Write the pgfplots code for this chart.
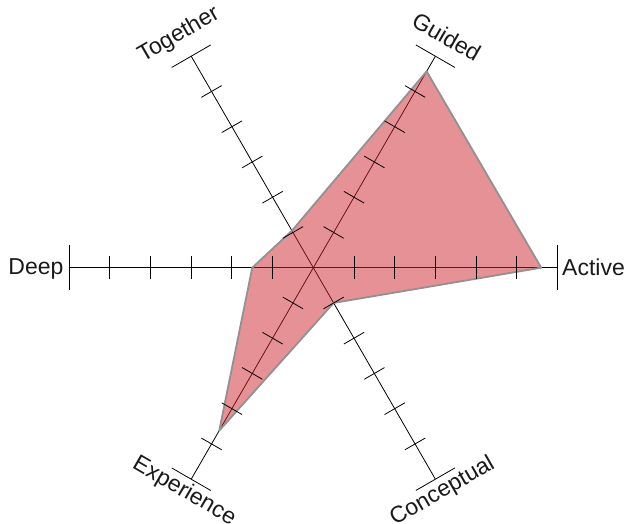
\documentclass[border=0pt]{standalone}
\usepackage{pgfplots}
\pgfplotsset{compat=1.18}
\usepackage{fontspec}
\setmainfont{Liberation Sans}
\definecolor{fillred}{RGB}{206,36,44}
\definecolor{edgegray}{RGB}{145,145,145}
\tikzset{lbl/.style={inner sep=0pt, font=\fontsize{23bp}{27bp}\selectfont, text=black!90}}
\begin{document}
\begin{tikzpicture}
\path[use as bounding box] (-313.3bp,-256.3bp) rectangle (313.7bp,267.7bp);
\begin{axis}[x=40.7bp, y=40.7bp, hide axis, xmin=-6, xmax=6, ymin=-6, ymax=6,
  anchor=center, at={(0,0)}, clip=false]
% spokes
\addplot[data cs=polar, black, line width=0.8bp, no marks] coordinates {(0,6) (180,6)};
\addplot[data cs=polar, black, line width=0.8bp, no marks] coordinates {(60,6) (240,6)};
\addplot[data cs=polar, black, line width=0.8bp, no marks] coordinates {(120,6) (300,6)};
% ticks
\addplot[data cs=polar, only marks, mark=|, mark size=11.7bp, mark options={black, line width=0.8bp, rotate=0}]
  coordinates {(0,1)(0,2)(0,3)(0,4)(0,5)(180,1)(180,2)(180,3)(180,4)(180,5)};
\addplot[data cs=polar, only marks, mark=|, mark size=11.7bp, mark options={black, line width=0.8bp, rotate=60}]
  coordinates {(60,1)(60,2)(60,3)(60,4)(60,5)(240,1)(240,2)(240,3)(240,4)(240,5)};
\addplot[data cs=polar, only marks, mark=|, mark size=11.7bp, mark options={black, line width=0.8bp, rotate=120}]
  coordinates {(120,1)(120,2)(120,3)(120,4)(120,5)(300,1)(300,2)(300,3)(300,4)(300,5)};
% end bars
\addplot[data cs=polar, only marks, mark=|, mark size=22.5bp, mark options={black, line width=0.8bp, rotate=0}]
  coordinates {(0,6)(180,6)};
\addplot[data cs=polar, only marks, mark=|, mark size=22.5bp, mark options={black, line width=0.8bp, rotate=60}]
  coordinates {(60,6)(240,6)};
\addplot[data cs=polar, only marks, mark=|, mark size=22.5bp, mark options={black, line width=0.8bp, rotate=120}]
  coordinates {(120,6)(300,6)};
% data polygon
\addplot[data cs=polar, no marks, fill=fillred, fill opacity=0.5, draw=edgegray, line width=1.8bp, line join=round]
  coordinates {(0,5.6) (60,5.57) (120,1.05) (180,1.5) (240,4.62) (300,1.0)} -- cycle;
% labels
\node[lbl, anchor=west] at (axis cs:6.11,0) {Active};
\node[lbl, anchor=east] at (axis cs:-6.135,-0.025) {Deep};
\node[lbl, rotate=-30] at (axis cs:3.278,5.677) {Guided};
\node[lbl, rotate=30] at (axis cs:-3.302,5.719) {Together};
\node[lbl, rotate=-30] at (axis cs:-3.175,-5.499) {Experience};
\node[lbl, rotate=30] at (axis cs:3.175,-5.499) {Conceptual};
\end{axis}
\end{tikzpicture}
\end{document}
